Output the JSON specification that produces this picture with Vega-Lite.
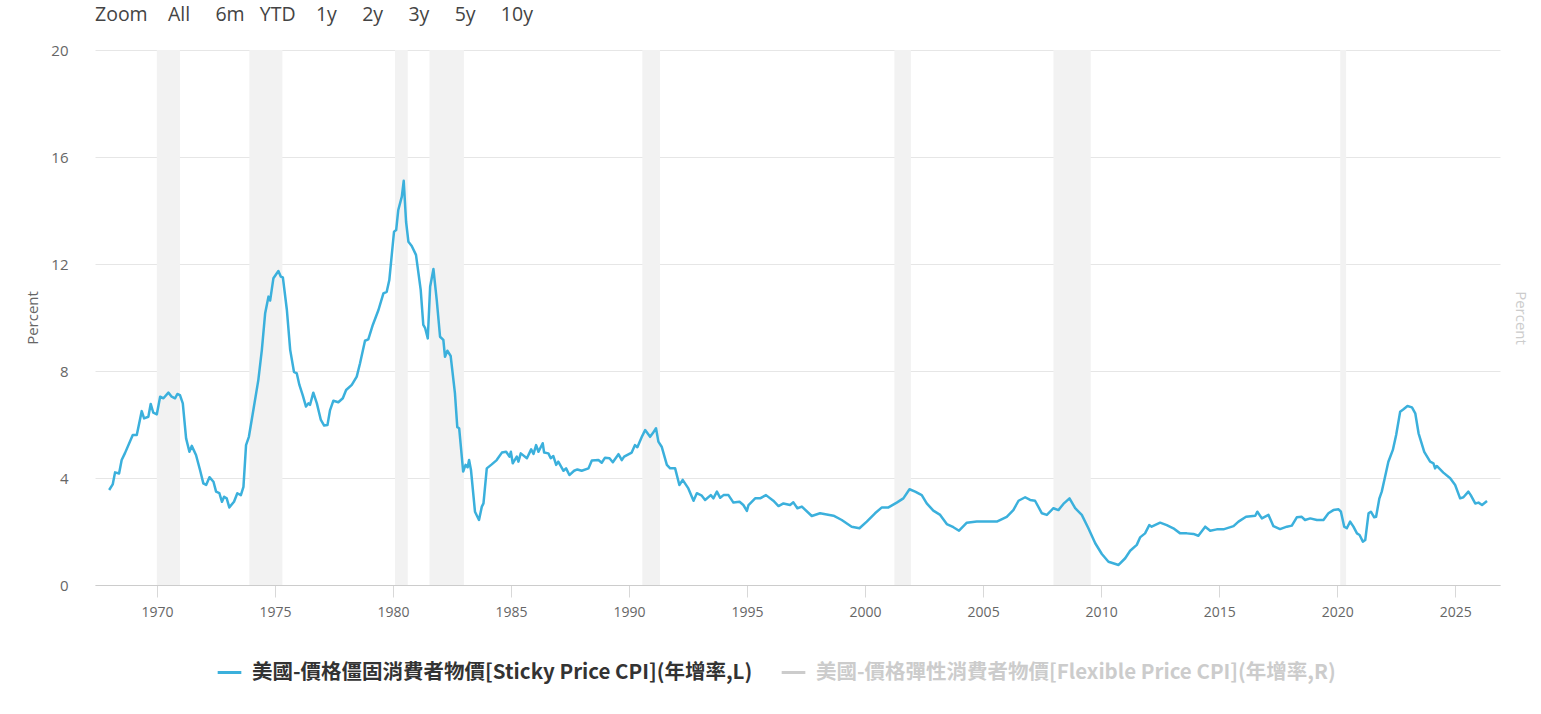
{
  "$schema": "https://vega.github.io/schema/vega-lite/v6.json",
  "autosize": {"type": "none"},
  "width": 1405,
  "height": 535,
  "padding": {"left": 95, "top": 50, "right": 41, "bottom": 129},
  "background": "white",
  "title": {
    "text": "Zoom\u00a0\u00a0\u00a0\u00a0All\u00a0\u00a0\u00a0\u00a0\u00a06m\u00a0\u00a0\u00a0YTD\u00a0\u00a0\u00a0\u00a01y\u00a0\u00a0\u00a0\u00a0\u00a02y\u00a0\u00a0\u00a0\u00a0\u00a03y\u00a0\u00a0\u00a0\u00a0\u00a05y\u00a0\u00a0\u00a0\u00a0\u00a010y",
    "anchor": "start",
    "frame": "group",
    "font": "Open Sans",
    "fontSize": 19.5,
    "fontWeight": "normal",
    "color": "#444444",
    "offset": 18
  },
  "config": {
    "view": {"stroke": null},
    "font": "Open Sans"
  },
  "datasets": {
    "rec": [
      {"s": 1969.99, "e": 1970.97},
      {"s": 1973.91, "e": 1975.31},
      {"s": 1980.08, "e": 1980.62},
      {"s": 1981.54, "e": 1983.0},
      {"s": 1990.56, "e": 1991.31},
      {"s": 2001.24, "e": 2001.94},
      {"s": 2007.98, "e": 2009.56},
      {"s": 2020.13, "e": 2020.38}
    ],
    "cpi": [
      {"t": 1967.97, "v": 3.55}, {"t": 1968.12, "v": 3.76}, {"t": 1968.22, "v": 4.21}, {"t": 1968.39, "v": 4.17},
      {"t": 1968.5, "v": 4.67}, {"t": 1968.64, "v": 4.93}, {"t": 1968.97, "v": 5.61}, {"t": 1969.14, "v": 5.61},
      {"t": 1969.35, "v": 6.5}, {"t": 1969.45, "v": 6.23}, {"t": 1969.63, "v": 6.29}, {"t": 1969.73, "v": 6.77},
      {"t": 1969.84, "v": 6.44}, {"t": 1969.99, "v": 6.38}, {"t": 1970.13, "v": 7.04}, {"t": 1970.27, "v": 6.98},
      {"t": 1970.48, "v": 7.19}, {"t": 1970.62, "v": 7.04}, {"t": 1970.76, "v": 6.98}, {"t": 1970.86, "v": 7.14},
      {"t": 1970.97, "v": 7.1}, {"t": 1971.09, "v": 6.79}, {"t": 1971.23, "v": 5.48}, {"t": 1971.37, "v": 4.98},
      {"t": 1971.47, "v": 5.2}, {"t": 1971.65, "v": 4.86}, {"t": 1971.82, "v": 4.3}, {"t": 1971.96, "v": 3.8},
      {"t": 1972.08, "v": 3.74}, {"t": 1972.22, "v": 4.03}, {"t": 1972.39, "v": 3.86}, {"t": 1972.5, "v": 3.49},
      {"t": 1972.64, "v": 3.43}, {"t": 1972.75, "v": 3.11}, {"t": 1972.84, "v": 3.3}, {"t": 1972.95, "v": 3.24},
      {"t": 1973.06, "v": 2.9}, {"t": 1973.26, "v": 3.11}, {"t": 1973.4, "v": 3.43}, {"t": 1973.55, "v": 3.36},
      {"t": 1973.66, "v": 3.67}, {"t": 1973.77, "v": 5.23}, {"t": 1973.89, "v": 5.54}, {"t": 1974.08, "v": 6.54},
      {"t": 1974.29, "v": 7.66}, {"t": 1974.44, "v": 8.79}, {"t": 1974.58, "v": 10.16}, {"t": 1974.72, "v": 10.78},
      {"t": 1974.79, "v": 10.63}, {"t": 1974.93, "v": 11.47}, {"t": 1975.14, "v": 11.74}, {"t": 1975.24, "v": 11.53},
      {"t": 1975.33, "v": 11.5}, {"t": 1975.5, "v": 10.28}, {"t": 1975.64, "v": 8.79}, {"t": 1975.8, "v": 7.97},
      {"t": 1975.92, "v": 7.91}, {"t": 1976.03, "v": 7.48}, {"t": 1976.17, "v": 7.1}, {"t": 1976.31, "v": 6.67},
      {"t": 1976.41, "v": 6.79}, {"t": 1976.48, "v": 6.73}, {"t": 1976.62, "v": 7.19}, {"t": 1976.77, "v": 6.79},
      {"t": 1976.94, "v": 6.17}, {"t": 1977.08, "v": 5.96}, {"t": 1977.22, "v": 5.98}, {"t": 1977.33, "v": 6.54},
      {"t": 1977.47, "v": 6.89}, {"t": 1977.68, "v": 6.83}, {"t": 1977.87, "v": 6.98}, {"t": 1978.01, "v": 7.29},
      {"t": 1978.25, "v": 7.48}, {"t": 1978.46, "v": 7.79}, {"t": 1978.6, "v": 8.29}, {"t": 1978.81, "v": 9.13},
      {"t": 1978.95, "v": 9.18}, {"t": 1979.14, "v": 9.72}, {"t": 1979.38, "v": 10.28}, {"t": 1979.59, "v": 10.9},
      {"t": 1979.73, "v": 10.96}, {"t": 1979.84, "v": 11.4}, {"t": 1980.04, "v": 13.21}, {"t": 1980.13, "v": 13.27},
      {"t": 1980.22, "v": 14.02}, {"t": 1980.37, "v": 14.52}, {"t": 1980.45, "v": 15.11}, {"t": 1980.55, "v": 13.58},
      {"t": 1980.65, "v": 12.83}, {"t": 1980.79, "v": 12.67}, {"t": 1980.97, "v": 12.34}, {"t": 1981.17, "v": 11.03},
      {"t": 1981.28, "v": 9.72}, {"t": 1981.36, "v": 9.6}, {"t": 1981.47, "v": 9.22}, {"t": 1981.57, "v": 11.15},
      {"t": 1981.71, "v": 11.81}, {"t": 1981.85, "v": 10.65}, {"t": 1981.99, "v": 9.28}, {"t": 1982.13, "v": 9.16},
      {"t": 1982.2, "v": 8.53}, {"t": 1982.3, "v": 8.76}, {"t": 1982.44, "v": 8.56}, {"t": 1982.62, "v": 7.17},
      {"t": 1982.72, "v": 5.9}, {"t": 1982.8, "v": 5.86}, {"t": 1982.97, "v": 4.24}, {"t": 1983.07, "v": 4.49},
      {"t": 1983.16, "v": 4.4}, {"t": 1983.22, "v": 4.67}, {"t": 1983.3, "v": 4.3}, {"t": 1983.47, "v": 2.74},
      {"t": 1983.64, "v": 2.43}, {"t": 1983.76, "v": 2.93}, {"t": 1983.83, "v": 3.05}, {"t": 1983.97, "v": 4.36},
      {"t": 1984.18, "v": 4.51}, {"t": 1984.39, "v": 4.67}, {"t": 1984.61, "v": 4.95}, {"t": 1984.79, "v": 4.98},
      {"t": 1984.93, "v": 4.8}, {"t": 1984.99, "v": 4.98}, {"t": 1985.07, "v": 4.55}, {"t": 1985.24, "v": 4.8},
      {"t": 1985.31, "v": 4.61}, {"t": 1985.41, "v": 4.92}, {"t": 1985.67, "v": 4.74}, {"t": 1985.85, "v": 5.07},
      {"t": 1985.95, "v": 4.9}, {"t": 1986.06, "v": 5.23}, {"t": 1986.16, "v": 4.98}, {"t": 1986.34, "v": 5.3},
      {"t": 1986.4, "v": 4.95}, {"t": 1986.58, "v": 4.92}, {"t": 1986.68, "v": 4.74}, {"t": 1986.79, "v": 4.82},
      {"t": 1986.91, "v": 4.49}, {"t": 1987.0, "v": 4.61}, {"t": 1987.22, "v": 4.27}, {"t": 1987.33, "v": 4.36},
      {"t": 1987.47, "v": 4.11}, {"t": 1987.67, "v": 4.27}, {"t": 1987.81, "v": 4.32}, {"t": 1987.99, "v": 4.27},
      {"t": 1988.28, "v": 4.36}, {"t": 1988.42, "v": 4.65}, {"t": 1988.7, "v": 4.67}, {"t": 1988.84, "v": 4.57},
      {"t": 1988.98, "v": 4.76}, {"t": 1989.17, "v": 4.74}, {"t": 1989.31, "v": 4.59}, {"t": 1989.55, "v": 4.89},
      {"t": 1989.69, "v": 4.67}, {"t": 1989.79, "v": 4.8}, {"t": 1990.11, "v": 4.95}, {"t": 1990.25, "v": 5.23},
      {"t": 1990.35, "v": 5.15}, {"t": 1990.54, "v": 5.54}, {"t": 1990.68, "v": 5.79}, {"t": 1990.89, "v": 5.54},
      {"t": 1991.0, "v": 5.67}, {"t": 1991.14, "v": 5.86}, {"t": 1991.24, "v": 5.36}, {"t": 1991.38, "v": 5.17},
      {"t": 1991.6, "v": 4.49}, {"t": 1991.74, "v": 4.36}, {"t": 1991.95, "v": 4.36}, {"t": 1992.13, "v": 3.74},
      {"t": 1992.27, "v": 3.93}, {"t": 1992.51, "v": 3.61}, {"t": 1992.73, "v": 3.15}, {"t": 1992.87, "v": 3.43},
      {"t": 1993.08, "v": 3.34}, {"t": 1993.22, "v": 3.18}, {"t": 1993.46, "v": 3.36}, {"t": 1993.57, "v": 3.24},
      {"t": 1993.72, "v": 3.49}, {"t": 1993.86, "v": 3.26}, {"t": 1994.0, "v": 3.36}, {"t": 1994.21, "v": 3.36},
      {"t": 1994.42, "v": 3.08}, {"t": 1994.68, "v": 3.11}, {"t": 1994.84, "v": 2.99}, {"t": 1994.99, "v": 2.77},
      {"t": 1995.06, "v": 2.99}, {"t": 1995.34, "v": 3.24}, {"t": 1995.55, "v": 3.24}, {"t": 1995.8, "v": 3.36},
      {"t": 1996.11, "v": 3.15}, {"t": 1996.33, "v": 2.95}, {"t": 1996.54, "v": 3.05}, {"t": 1996.82, "v": 2.99},
      {"t": 1996.96, "v": 3.09}, {"t": 1997.13, "v": 2.87}, {"t": 1997.32, "v": 2.93}, {"t": 1997.74, "v": 2.58},
      {"t": 1998.09, "v": 2.68}, {"t": 1998.66, "v": 2.59}, {"t": 1999.01, "v": 2.43}, {"t": 1999.43, "v": 2.18},
      {"t": 1999.76, "v": 2.12}, {"t": 2000.07, "v": 2.37}, {"t": 2000.42, "v": 2.68}, {"t": 2000.71, "v": 2.9},
      {"t": 2000.99, "v": 2.9}, {"t": 2001.34, "v": 3.08}, {"t": 2001.62, "v": 3.24}, {"t": 2001.88, "v": 3.58},
      {"t": 2002.12, "v": 3.49}, {"t": 2002.4, "v": 3.36}, {"t": 2002.61, "v": 3.05}, {"t": 2002.89, "v": 2.78},
      {"t": 2003.18, "v": 2.62}, {"t": 2003.46, "v": 2.28}, {"t": 2003.74, "v": 2.16}, {"t": 2003.98, "v": 2.03},
      {"t": 2004.31, "v": 2.33}, {"t": 2004.73, "v": 2.37}, {"t": 2005.3, "v": 2.37}, {"t": 2005.58, "v": 2.37},
      {"t": 2006.0, "v": 2.55}, {"t": 2006.28, "v": 2.8}, {"t": 2006.5, "v": 3.15}, {"t": 2006.78, "v": 3.28},
      {"t": 2006.99, "v": 3.18}, {"t": 2007.2, "v": 3.15}, {"t": 2007.49, "v": 2.68}, {"t": 2007.7, "v": 2.62},
      {"t": 2007.98, "v": 2.87}, {"t": 2008.19, "v": 2.8}, {"t": 2008.4, "v": 3.03}, {"t": 2008.66, "v": 3.24},
      {"t": 2008.9, "v": 2.87}, {"t": 2009.18, "v": 2.62}, {"t": 2009.46, "v": 2.12}, {"t": 2009.75, "v": 1.56},
      {"t": 2010.03, "v": 1.16}, {"t": 2010.31, "v": 0.87}, {"t": 2010.74, "v": 0.75}, {"t": 2011.02, "v": 1.0},
      {"t": 2011.23, "v": 1.28}, {"t": 2011.51, "v": 1.5}, {"t": 2011.65, "v": 1.78}, {"t": 2011.86, "v": 1.93},
      {"t": 2012.04, "v": 2.24}, {"t": 2012.14, "v": 2.18}, {"t": 2012.5, "v": 2.33}, {"t": 2012.78, "v": 2.24},
      {"t": 2013.06, "v": 2.12}, {"t": 2013.35, "v": 1.93}, {"t": 2013.63, "v": 1.93}, {"t": 2013.91, "v": 1.91},
      {"t": 2014.12, "v": 1.84}, {"t": 2014.41, "v": 2.18}, {"t": 2014.62, "v": 2.03}, {"t": 2014.9, "v": 2.08},
      {"t": 2015.18, "v": 2.08}, {"t": 2015.61, "v": 2.2}, {"t": 2015.82, "v": 2.37}, {"t": 2016.14, "v": 2.55},
      {"t": 2016.53, "v": 2.59}, {"t": 2016.62, "v": 2.74}, {"t": 2016.81, "v": 2.49}, {"t": 2017.09, "v": 2.62},
      {"t": 2017.3, "v": 2.2}, {"t": 2017.58, "v": 2.09}, {"t": 2017.87, "v": 2.18}, {"t": 2018.08, "v": 2.22},
      {"t": 2018.29, "v": 2.53}, {"t": 2018.5, "v": 2.55}, {"t": 2018.64, "v": 2.43}, {"t": 2018.86, "v": 2.49},
      {"t": 2019.14, "v": 2.43}, {"t": 2019.42, "v": 2.43}, {"t": 2019.63, "v": 2.68}, {"t": 2019.84, "v": 2.8},
      {"t": 2020.06, "v": 2.83}, {"t": 2020.16, "v": 2.74}, {"t": 2020.3, "v": 2.18}, {"t": 2020.41, "v": 2.12},
      {"t": 2020.55, "v": 2.37}, {"t": 2020.69, "v": 2.18}, {"t": 2020.84, "v": 1.93}, {"t": 2020.95, "v": 1.87},
      {"t": 2021.09, "v": 1.62}, {"t": 2021.19, "v": 1.68}, {"t": 2021.33, "v": 2.68}, {"t": 2021.43, "v": 2.74},
      {"t": 2021.57, "v": 2.53}, {"t": 2021.65, "v": 2.55}, {"t": 2021.79, "v": 3.24}, {"t": 2021.89, "v": 3.49},
      {"t": 2022.03, "v": 4.05}, {"t": 2022.17, "v": 4.61}, {"t": 2022.36, "v": 5.05}, {"t": 2022.5, "v": 5.61},
      {"t": 2022.67, "v": 6.48}, {"t": 2022.81, "v": 6.57}, {"t": 2022.98, "v": 6.69}, {"t": 2023.17, "v": 6.64},
      {"t": 2023.31, "v": 6.42}, {"t": 2023.45, "v": 5.67}, {"t": 2023.69, "v": 4.98}, {"t": 2023.94, "v": 4.61},
      {"t": 2024.08, "v": 4.55}, {"t": 2024.15, "v": 4.36}, {"t": 2024.22, "v": 4.45}, {"t": 2024.5, "v": 4.2},
      {"t": 2024.79, "v": 3.99}, {"t": 2025.0, "v": 3.74}, {"t": 2025.21, "v": 3.24}, {"t": 2025.35, "v": 3.28},
      {"t": 2025.56, "v": 3.49}, {"t": 2025.66, "v": 3.36}, {"t": 2025.85, "v": 3.05}, {"t": 2025.99, "v": 3.08},
      {"t": 2026.14, "v": 2.99}, {"t": 2026.35, "v": 3.14}
    ]
  },
  "layer": [
    {
      "data": {"name": "rec"},
      "mark": {"type": "rect", "color": "#f2f2f2"},
      "encoding": {
        "x": {"field": "s", "type": "quantitative", "scale": {"domain": [1967.37, 2026.9], "nice": false, "zero": false}},
        "x2": {"field": "e"}
      }
    },
    {
      "data": {"name": "cpi"},
      "transform": [{"calculate": "'美國-價格僵固消費者物價[Sticky Price CPI](年增率,L)'", "as": "series"}],
      "mark": {"type": "line", "strokeWidth": 2.5, "strokeJoin": "round"},
      "encoding": {
        "x": {
          "field": "t", "type": "quantitative",
          "scale": {"domain": [1967.37, 2026.9], "nice": false, "zero": false},
          "axis": {
            "title": null, "values": [1970, 1975, 1980, 1985, 1990, 1995, 2000, 2005, 2010, 2015, 2020, 2025],
            "format": "d", "grid": false, "tickSize": 12, "tickColor": "#d8d8d8", "domainColor": "#cccccc",
            "labelColor": "#666666", "labelFontSize": 14, "labelPadding": 8, "labelFont": "Open Sans"
          }
        },
        "y": {
          "field": "v", "type": "quantitative",
          "scale": {"domain": [0, 20], "nice": false},
          "axis": {
            "title": "Percent", "values": [0, 4, 8, 12, 16, 20], "grid": true, "gridColor": "#e6e6e6",
            "domain": false, "ticks": false, "labelPadding": 27, "labelFontSize": 15, "labelColor": "#666666",
            "labelFont": "Open Sans", "titleColor": "#666666", "titleFontWeight": "normal", "titleFontSize": 15,
            "titleFont": "Open Sans", "titlePadding": 10
          }
        },
        "color": {
          "field": "series", "type": "nominal",
          "scale": {
            "domain": ["美國-價格僵固消費者物價[Sticky Price CPI](年增率,L)", "美國-價格彈性消費者物價[Flexible Price CPI](年增率,R)"],
            "range": ["#3bb0dc", "#cccccc"]
          },
          "legend": {
            "title": null, "orient": "none", "legendX": 121, "legendY": 609, "direction": "horizontal",
            "symbolType": "stroke", "symbolSize": 560, "symbolStrokeWidth": 3, "labelFontSize": 20.5,
            "labelFont": "Noto Sans CJK TC", "labelFontWeight": "bold", "labelLimit": 800, "labelOffset": 9,
            "columnPadding": 22,
            "encode": {"labels": {"update": {"fill": {"signal": "datum.index === 0 ? '#333333' : '#cccccc'"}}}}
          }
        }
      }
    },
    {
      "data": {"values": []},
      "mark": {"type": "line"},
      "encoding": {
        "y": {
          "field": "v", "type": "quantitative",
          "scale": {"domain": [0, 20], "nice": false},
          "axis": {
            "orient": "right", "title": "Percent", "labels": false, "ticks": false, "domain": false, "grid": false,
            "titleColor": "#cccccc", "titleFontWeight": "normal", "titleFontSize": 15, "titleFont": "Open Sans",
            "titlePadding": 12
          }
        }
      }
    }
  ],
  "resolve": {"scale": {"y": "independent"}}
}
